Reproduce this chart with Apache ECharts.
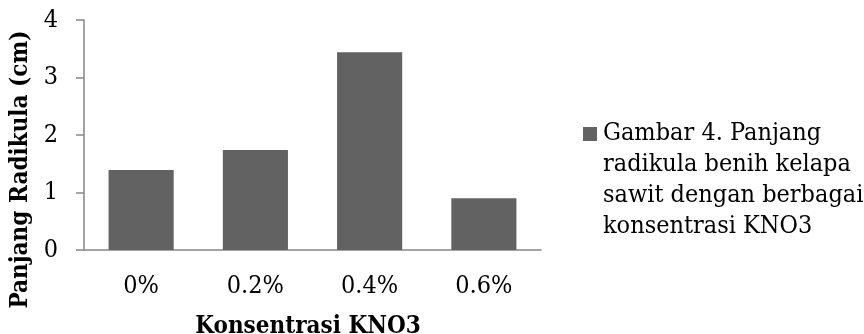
<!DOCTYPE html>
<html>
<head>
<meta charset="utf-8">
<script src="https://cdn.jsdelivr.net/npm/echarts@6/dist/echarts.min.js"></script>
<style>
  html, body { margin: 0; padding: 0; background: #fff; }
  #chart { width: 864px; height: 334px; }
</style>
</head>
<body>
<div id="chart"></div>
<script>
// KNO3 concentration levels and the mean radicle length for each
const categories = ['0%', '0.2%', '0.4%', '0.6%'];
const radicleLength = [1.39, 1.74, 3.44, 0.9];
const yTicks = [0, 1, 2, 3, 4];
const seriesName = 'Gambar 4. Panjang\nradikula benih kelapa\nsawit dengan berbagai\nkonsentrasi KNO3';

const FONT = 'DejaVu Serif Condensed, DejaVu Serif';
const AXIS_GREY = '#868686';
const BAR_GREY = '#626262';

const chart = echarts.init(document.getElementById('chart'), null, { renderer: 'canvas' });

chart.setOption({
  animation: false,
  backgroundColor: '#ffffff',
  textStyle: { fontFamily: FONT },
  grid: { left: 84, right: 323, top: 20, bottom: 84, containLabel: false, outerBoundsMode: 'none' },
  // legend entry: swatch beside the top line of a four-line caption
  graphic: [
    {
      type: 'rect',
      left: 583,
      top: 127,
      shape: { width: 14, height: 14 },
      style: { fill: BAR_GREY }
    },
    {
      type: 'text',
      left: 603,
      top: 118,
      style: {
        text: seriesName,
        fontFamily: FONT,
        fontSize: 25,
        lineHeight: 31,
        fill: '#000'
      }
    }
  ],
  xAxis: {
    type: 'category',
    data: categories,
    name: 'Konsentrasi KNO3',
    nameLocation: 'middle',
    nameGap: 65,
    nameTextStyle: { fontFamily: FONT, fontSize: 24, fontWeight: 'bold', color: '#000', padding: [0, 9, 0, 0] },
    axisLine: { show: true, lineStyle: { color: AXIS_GREY, width: 1.5 } },
    axisTick: { show: false },
    axisLabel: { fontFamily: FONT, fontSize: 25, color: '#000', margin: 24 },
    splitLine: { show: false }
  },
  yAxis: {
    type: 'value',
    min: yTicks[0],
    max: yTicks[yTicks.length - 1],
    interval: 1,
    name: 'Panjang Radikula (cm)',
    nameLocation: 'middle',
    nameGap: 49,
    nameTextStyle: { fontFamily: FONT, fontSize: 24, fontWeight: 'bold', color: '#000', padding: [0, 69, 0, 0] },
    axisLine: { show: true, lineStyle: { color: AXIS_GREY, width: 1.5 } },
    axisTick: { show: true, inside: false, length: 8, lineStyle: { color: AXIS_GREY, width: 1.5 } },
    axisLabel: { fontFamily: FONT, fontSize: 25, color: '#000', margin: 26 },
    splitLine: { show: false }
  },
  series: [{
    name: seriesName,
    type: 'bar',
    data: radicleLength,
    barWidth: '57%',
    itemStyle: { color: BAR_GREY }
  }]
});
</script>
</body>
</html>
